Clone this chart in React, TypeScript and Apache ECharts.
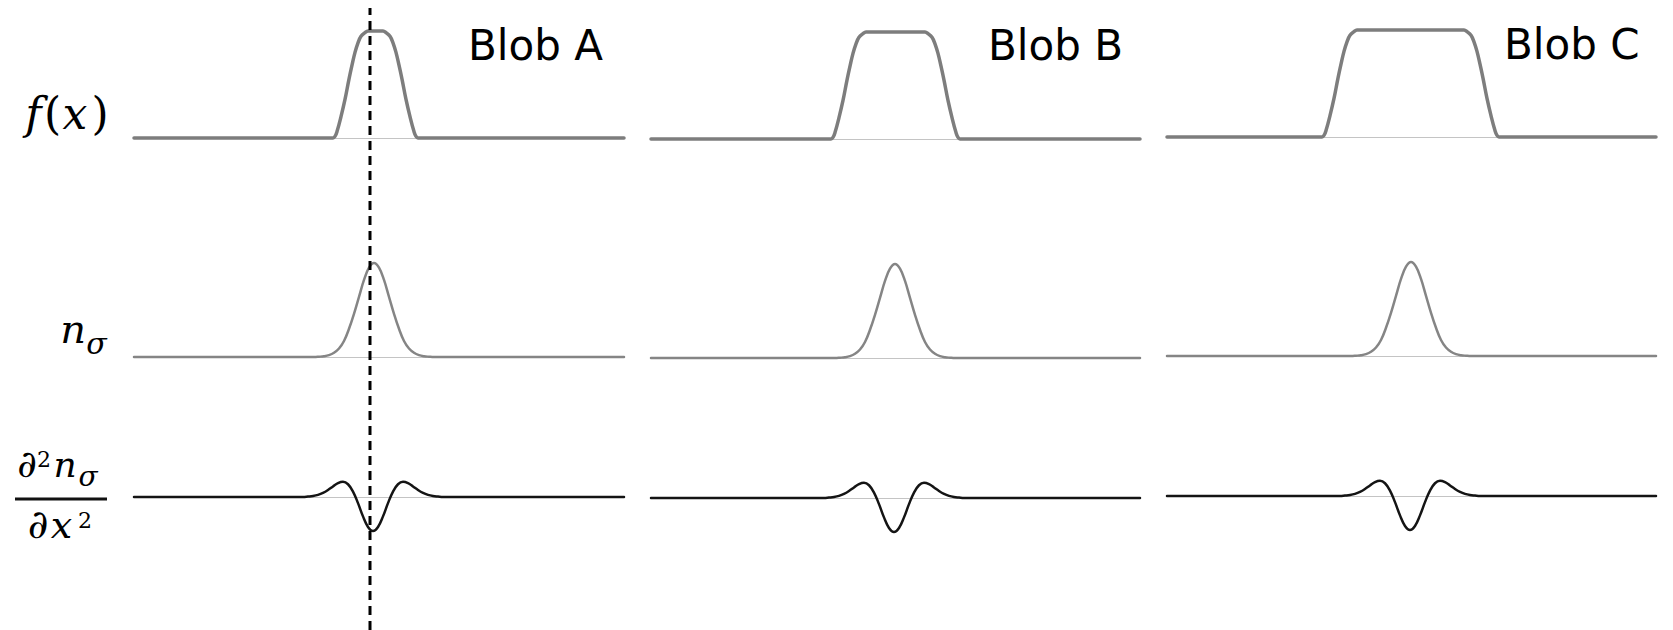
import React, { useEffect, useRef } from "react";
import * as echarts from "echarts";

// ---------- data (x in panel units, 0 = left end of each panel line) ----------
const blobTitles = ["Blob A", "Blob B", "Blob C"];

// f(x) : smoothed top-hat blobs, plateau = 1
const fA: number[][] = [[0,0],[199,0],[201,0.015],[203,0.06],[207,0.2],[211,0.36],[215,0.55],[218,0.68],[221,0.8],[224,0.89],[227,0.95],[231,0.985],[234,1],[249,1],[252,0.985],[256,0.95],[259,0.89],[262,0.8],[265,0.68],[268,0.55],[272,0.36],[276,0.2],[280,0.06],[282,0.015],[284,0],[490,0]];
const fB: number[][] = [[0,0],[180,0],[182,0.015],[184,0.06],[188,0.2],[192,0.36],[196,0.55],[199,0.68],[202,0.8],[205,0.89],[208,0.95],[212,0.985],[215,1],[274,1],[277,0.985],[281,0.95],[284,0.89],[287,0.8],[290,0.68],[293,0.55],[297,0.36],[301,0.2],[305,0.06],[307,0.015],[309,0],[489,0]];
const fC: number[][] = [[0,0],[155,0],[157,0.015],[159,0.06],[163,0.2],[167,0.36],[171,0.55],[174,0.68],[177,0.8],[180,0.89],[183,0.95],[187,0.985],[190,1],[297,1],[300,0.985],[304,0.95],[307,0.89],[310,0.8],[313,0.68],[316,0.55],[320,0.36],[324,0.2],[328,0.06],[330,0.015],[332,0],[489,0]];

// n_sigma : smoothed blob response, peak = 1
const nA: number[][] = [[0,0],[180,0],[185,0.003],[190,0.008],[195,0.02],[200,0.045],[205,0.09],[210,0.17],[215,0.3],[220,0.46],[225,0.64],[230,0.82],[235,0.95],[240,1],[245,0.95],[250,0.82],[255,0.64],[260,0.46],[265,0.3],[270,0.17],[275,0.09],[280,0.045],[285,0.02],[290,0.008],[295,0.003],[300,0],[490,0]];
const nB: number[][] = [[0,0],[184,0],[189,0.003],[194,0.008],[199,0.02],[204,0.045],[209,0.09],[214,0.17],[219,0.3],[224,0.46],[229,0.64],[234,0.82],[239,0.95],[244,1],[249,0.95],[254,0.82],[259,0.64],[264,0.46],[269,0.3],[274,0.17],[279,0.09],[284,0.045],[289,0.02],[294,0.008],[299,0.003],[304,0],[489,0]];
const nC: number[][] = [[0,0],[184,0],[189,0.003],[194,0.008],[199,0.02],[204,0.045],[209,0.09],[214,0.17],[219,0.3],[224,0.46],[229,0.64],[234,0.82],[239,0.95],[244,1],[249,0.95],[254,0.82],[259,0.64],[264,0.46],[269,0.3],[274,0.17],[279,0.09],[284,0.045],[289,0.02],[294,0.008],[299,0.003],[304,0],[489,0]];

// second derivative of n_sigma, dip = -1
const dA: number[][] = [[0,0],[169,0],[174,0.013],[179,0.03],[184,0.063],[189,0.12],[194,0.205],[199,0.31],[204,0.405],[209,0.445],[214,0.375],[219,0.16],[224,-0.18],[229,-0.57],[234,-0.88],[239,-1],[244,-0.88],[249,-0.57],[254,-0.18],[259,0.16],[264,0.375],[269,0.445],[274,0.405],[279,0.31],[284,0.205],[289,0.12],[294,0.063],[299,0.03],[304,0.013],[309,0],[490,0]];
const dB: number[][] = [[0,0],[173,0],[178,0.013],[183,0.03],[188,0.063],[193,0.12],[198,0.205],[203,0.31],[208,0.405],[213,0.445],[218,0.375],[223,0.16],[228,-0.18],[233,-0.57],[238,-0.88],[243,-1],[248,-0.88],[253,-0.57],[258,-0.18],[263,0.16],[268,0.375],[273,0.445],[278,0.405],[283,0.31],[288,0.205],[293,0.12],[298,0.063],[303,0.03],[308,0.013],[313,0],[489,0]];
const dC: number[][] = [[0,0],[173,0],[178,0.013],[183,0.03],[188,0.063],[193,0.12],[198,0.205],[203,0.31],[208,0.405],[213,0.445],[218,0.375],[223,0.16],[228,-0.18],[233,-0.57],[238,-0.88],[243,-1],[248,-0.88],[253,-0.57],[258,-0.18],[263,0.16],[268,0.375],[273,0.445],[278,0.405],[283,0.31],[288,0.205],[293,0.12],[298,0.063],[303,0.03],[308,0.013],[313,0],[489,0]];

// vertical dashed marker (panel-1 x units)
const markerLine: number[][] = [[236, 0], [236, 1]];

const rowData = [
  [fA, fB, fC],
  [nA, nB, nC],
  [dA, dB, dC],
];

// ---------- layout ----------
const colLeft = [134, 651, 1167];
const colWidth = [490, 489, 489];
const colShift = [0, 1, -1];
const rowSpec = [
  { min: -0.2, max: 1.2, base: 138, unit: 107, color: "#7d7d7d", width: 3.5 },
  { min: -0.2, max: 1.2, base: 357, unit: 94, color: "#858585", width: 2.5 },
  { min: -1.4, max: 0.8, base: 497, unit: 34, color: "#141414", width: 2.5 },
];

function buildOption() {
  const grid: any[] = [];
  const xAxis: any[] = [];
  const yAxis: any[] = [];
  const series: any[] = [];
  rowSpec.forEach((r, ri) => {
    for (let c = 0; c < 3; c++) {
      const gi = grid.length;
      const top = r.base + colShift[c] - r.max * r.unit;
      grid.push({ left: colLeft[c], width: colWidth[c], top, height: (r.max - r.min) * r.unit, containLabel: false });
      xAxis.push({
        gridIndex: gi, type: "value", min: 0, max: colWidth[c],
        axisLabel: { show: false }, axisTick: { show: false }, splitLine: { show: false },
        axisLine: { show: true, onZero: true, lineStyle: { color: "#c4c4c4", width: 1 } },
      });
      yAxis.push({ gridIndex: gi, type: "value", min: r.min, max: r.max, show: false, splitLine: { show: false } });
      series.push({
        type: "line", xAxisIndex: gi, yAxisIndex: gi, data: rowData[ri][c],
        showSymbol: false, symbol: "none", smooth: 0.4, clip: false, z: 3,
        lineStyle: { color: r.color, width: r.width, cap: "round", join: "round" },
      });
    }
  });
  const gi = grid.length;
  grid.push({ left: colLeft[0], width: colWidth[0], top: 8, height: 622 });
  xAxis.push({ gridIndex: gi, type: "value", min: 0, max: colWidth[0], show: false });
  yAxis.push({ gridIndex: gi, type: "value", min: 0, max: 1, show: false });
  series.push({
    type: "line", xAxisIndex: gi, yAxisIndex: gi, data: markerLine, showSymbol: false, symbol: "none",
    clip: false, z: 5, lineStyle: { color: "#000", width: 3, type: [9, 6] },
  });

  const serif = "'DejaVu Serif', serif";
  const t = (text: string, x: number, y: number, size: number, italic: boolean, family = serif) => ({
    type: "text", x, y, z: 10,
    style: {
      text, fontSize: size, fontFamily: family, fontStyle: italic ? "italic" : "normal", fill: "#000",
      textAlign: "center", textVerticalAlign: "middle", verticalAlign: "middle", align: "center",
    },
  });
  const central = (baseline: number, size: number) => baseline - 0.346 * size;

  const graphic: any[] = [
    ...blobTitles.map((s, i) => ({
      type: "text", x: [468, 988, 1504][i], y: central(60, 42) - [0, 0, 1][i], z: 10,
      style: { text: s, fontSize: 42, fontFamily: "'DejaVu Sans', sans-serif", fill: "#000",
        textAlign: "left", align: "left", textVerticalAlign: "middle", verticalAlign: "middle" },
    })),
    // f(x)
    t("f", 33.5, central(129, 44), 44, true),
    t("(", 52.5, central(129, 44), 44, false),
    t("x", 75, central(129, 44), 44, true),
    t(")", 100, central(129, 44), 44, false),
    // n_sigma
    t("n", 73, central(343, 40), 40, true),
    t("σ", 96.5, central(354, 30), 30, true),
    // fraction numerator
    t("∂", 27, central(477, 38), 38, true),
    t("2", 44, central(467, 22), 22, false),
    t("n", 65, central(477, 36), 36, true),
    t("σ", 88, central(486, 28), 28, true),
    { type: "rect", z: 10, shape: { x: 15, y: 497.5, width: 92, height: 3 }, style: { fill: "#111" } },
    // denominator
    t("∂", 38, central(538, 40), 40, true),
    t("x", 61.5, central(538, 38), 38, true),
    t("2", 85, central(528, 22), 22, false),
  ];

  return {
    animation: false,
    backgroundColor: "#ffffff",
    grid, xAxis, yAxis, series, graphic,
  };
}

export default function App() {
  const ref = useRef<HTMLDivElement>(null);
  useEffect(() => {
    if (!ref.current) return;
    const chart = echarts.init(ref.current, null, { renderer: "svg" });
    chart.setOption(buildOption() as any);
    return () => chart.dispose();
  }, []);
  return (
    <div
      ref={ref}
      style={{ position: "fixed", left: 0, top: 0, width: 1673, height: 630, background: "#fff" }}
    />
  );
}
